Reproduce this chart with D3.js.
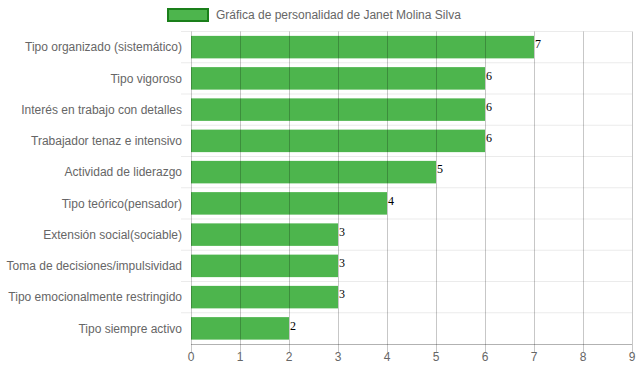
<!DOCTYPE html>
<html>
<head>
<meta charset="utf-8">
<script src="https://cdn.jsdelivr.net/npm/d3@7"></script>
<style>
  body { margin: 0; background: #fff; }
  svg { display: block; font-family: "Liberation Sans", Arial, sans-serif; }
</style>
</head>
<body>
<div class="chart"></div>
<script>
// Chart data
var categories = [
  "Tipo organizado (sistemático)",
  "Tipo vigoroso",
  "Interés en trabajo con detalles",
  "Trabajador tenaz e intensivo",
  "Actividad de liderazgo",
  "Tipo teórico(pensador)",
  "Extensión social(sociable)",
  "Toma de decisiones/impulsividad",
  "Tipo emocionalmente restringido",
  "Tipo siempre activo"
];
var values = [7, 6, 6, 6, 5, 4, 3, 3, 3, 2];
var xTicks = [0, 1, 2, 3, 4, 5, 6, 7, 8, 9];
var seriesName = "Gráfica de personalidad de Janet Molina Silva";

function init() {
  var w = 639;
  var h = 372;
  var left = 191, right = 632, top = 31.5, bottom = 344;

  var svg = d3.select(".chart")
    .append("svg")
    .attr("width", w)
    .attr("height", h);

  var xScale = d3.scaleLinear()
    .domain([0, 9])
    .range([left, right]);
  var yScale = d3.scaleBand()
    .domain(categories)
    .range([top, bottom])
    .paddingInner(0.28)
    .paddingOuter(0.14);
  var step = yScale.step();

  // Horizontal grid lines (category boundaries)
  svg.append("g")
    .selectAll("line")
    .data(categories)
    .enter()
    .append("line")
    .attr("x1", left - 10)
    .attr("x2", right)
    .attr("y1", function (d, i) { return top + i * step; })
    .attr("y2", function (d, i) { return top + i * step; })
    .attr("stroke", "rgba(0,0,0,0.08)")
    .attr("stroke-width", 1);

  // Bars
  svg.append("g")
    .selectAll("rect")
    .data(values)
    .enter()
    .append("rect")
    .attr("x", xScale(0))
    .attr("y", function (d, i) { return yScale(categories[i]); })
    .attr("width", function (d) { return xScale(d) - xScale(0); })
    .attr("height", yScale.bandwidth())
    .attr("fill", "#4db54d");

  // Vertical grid lines, drawn over the bars
  svg.append("g")
    .selectAll("line")
    .data(xTicks)
    .enter()
    .append("line")
    .attr("x1", function (d) { return Math.round(xScale(d)) + 0.5; })
    .attr("x2", function (d) { return Math.round(xScale(d)) + 0.5; })
    .attr("y1", top)
    .attr("y2", bottom + 8)
    .attr("stroke", "rgba(0,0,0,0.22)")
    .attr("stroke-width", 1);

  // Axis line at bottom
  svg.append("line")
    .attr("x1", left)
    .attr("x2", right)
    .attr("y1", bottom + 0.5)
    .attr("y2", bottom + 0.5)
    .attr("stroke", "rgba(0,0,0,0.3)");

  // X tick labels
  svg.append("g")
    .selectAll("text")
    .data(xTicks)
    .enter()
    .append("text")
    .attr("x", function (d) { return xScale(d); })
    .attr("y", 361)
    .attr("text-anchor", "middle")
    .style("font-size", "12px")
    .attr("fill", "#666")
    .text(function (d) { return d; });

  // Category labels
  svg.append("g")
    .selectAll("text")
    .data(categories)
    .enter()
    .append("text")
    .attr("x", left - 9)
    .attr("y", function (d) { return yScale(d) + yScale.bandwidth() / 2; })
    .attr("dy", "0.35em")
    .attr("text-anchor", "end")
    .style("font-size", "12px")
    .attr("fill", "#666")
    .text(function (d) { return d; });

  // Value labels
  svg.append("g")
    .selectAll("text")
    .data(values)
    .enter()
    .append("text")
    .attr("x", function (d) { return xScale(d) + 1; })
    .attr("y", function (d, i) { return yScale(categories[i]) + yScale.bandwidth() / 2; })
    .attr("dy", "0.1em")
    .style("font-family", "'Liberation Serif', 'Times New Roman', serif")
    .style("font-size", "12px")
    .attr("fill", "#000")
    .text(function (d) { return d; });

  // Legend
  svg.append("rect")
    .attr("x", 168)
    .attr("y", 9)
    .attr("width", 40)
    .attr("height", 12)
    .attr("fill", "#4db54d")
    .attr("stroke", "#1a7f1a")
    .attr("stroke-width", 2);
  svg.append("text")
    .attr("x", 216)
    .attr("y", 15)
    .attr("dy", "0.35em")
    .style("font-size", "12px")
    .attr("fill", "#666")
    .text(seriesName);
}
window.onload = init;
</script>
</body>
</html>
